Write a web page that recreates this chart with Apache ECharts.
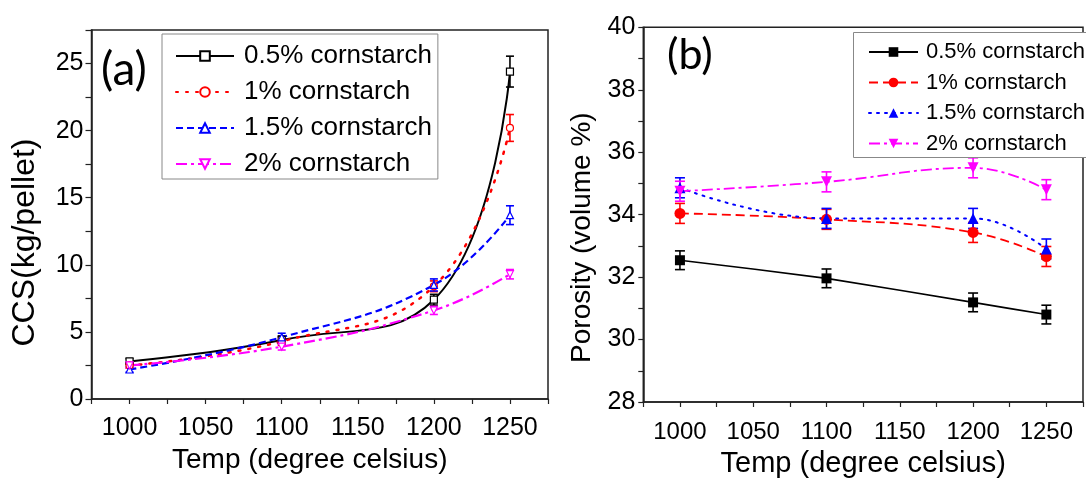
<!DOCTYPE html>
<html>
<head>
<meta charset="utf-8">
<script src="https://cdn.jsdelivr.net/npm/echarts@6/dist/echarts.min.js"></script>
<style>
  html, body { margin: 0; padding: 0; background: #fff; }
  #chart { width: 1086px; height: 483px; }
</style>
</head>
<body>
<div id="chart"></div>
<script>
// temperatures (degree celsius)
var temps = [1000, 1100, 1200, 1250];

// (a) CCS (kg/pellet)
var ccs05 = [2.8, 4.4, 7.4, 24.4];
var ccs05Err = [0.2, 0.3, 0.4, 1.15];
var ccs1 = [2.5, 4.3, 8.4, 20.2];
var ccs1Err = [0.2, 0.3, 0.4, 1.0];
var ccs15 = [2.2, 4.6, 8.5, 13.7];
var ccs15Err = [0.2, 0.3, 0.45, 0.7];
var ccs2 = [2.5, 3.9, 6.6, 9.3];
var ccs2Err = [0.2, 0.25, 0.3, 0.35];

// (b) porosity (volume %)
var por05 = [32.54, 31.96, 31.19, 30.8];
var por05Err = [0.3, 0.3, 0.3, 0.3];
var por1 = [34.04, 33.85, 33.43, 32.66];
var por1Err = [0.32, 0.32, 0.32, 0.32];
var por15 = [34.86, 33.88, 33.88, 32.9];
var por15Err = [0.32, 0.32, 0.32, 0.32];
var por2 = [34.75, 35.05, 35.5, 34.8];
var por2Err = [0.32, 0.32, 0.32, 0.32];

var names = ['0.5% cornstarch', '1% cornstarch', '1.5% cornstarch', '2% cornstarch'];
var colors = ['#000000', '#ff0000', '#0000ff', '#ff00ff'];

var FONT = '"Liberation Sans", Arial, sans-serif';
var downTri = 'path://M0,0 L10,0 L5,9 Z';

function pairs(vals) {
  return temps.map(function (t, i) { return [t, vals[i]]; });
}
function errData(vals, errs) {
  return temps.map(function (t, i) { return [t, vals[i] - errs[i], vals[i] + errs[i]]; });
}

// error bar drawn through the axes
function errRender(color, cap) {
  return function (params, api) {
    var top = api.coord([api.value(0), api.value(2)]);
    var bot = api.coord([api.value(0), api.value(1)]);
    var st = { stroke: color, lineWidth: 1.6 };
    return {
      type: 'group',
      children: [
        { type: 'line', shape: { x1: top[0], y1: top[1], x2: bot[0], y2: bot[1] }, style: st },
        { type: 'line', shape: { x1: top[0] - cap, y1: top[1], x2: top[0] + cap, y2: top[1] }, style: st },
        { type: 'line', shape: { x1: bot[0] - cap, y1: bot[1], x2: bot[0] + cap, y2: bot[1] }, style: st }
      ]
    };
  };
}

function xAxisCfg(idx, fs, margin, gap, nameFs, namePad) {
  return {
    type: 'value', gridIndex: idx, min: 975, max: 1275, interval: 25,
    name: 'Temp (degree celsius)', nameLocation: 'middle', nameGap: gap,
    nameTextStyle: { fontSize: nameFs, fontFamily: FONT, color: '#000', padding: namePad },
    axisLine: { lineStyle: { color: '#222', width: 1.5 } },
    axisTick: { inside: false, length: 5, lineStyle: { color: '#222', width: 1.2 } },
    axisLabel: {
      fontSize: fs, fontFamily: FONT, color: '#000', margin: margin,
      formatter: function (v) { return v % 50 === 0 ? String(v) : ''; }
    },
    splitLine: { show: false }
  };
}

var chart = echarts.init(document.getElementById('chart'), null, { renderer: 'canvas' });

var lineA = [
  { type: 'solid', width: 2 },
  { type: [2, 8], width: 2.5, cap: 'round' },
  { type: [7, 4], width: 2.2 },
  { type: [11, 4, 3, 4], width: 2.2 }
];
var symA = ['rect', 'circle', 'triangle', downTri];
var lineB = [
  { type: 'solid', width: 1.6 },
  { type: [9, 5], width: 1.8 },
  { type: [2, 6], width: 2, cap: 'round' },
  { type: [11, 4, 3, 4], width: 1.8 }
];
var symB = ['rect', 'circle', 'triangle', downTri];

var dataA = [ccs05, ccs1, ccs15, ccs2];
var errA = [ccs05Err, ccs1Err, ccs15Err, ccs2Err];
var dataB = [por05, por1, por15, por2];
var errB = [por05Err, por1Err, por15Err, por2Err];

var series = [];
for (var i = 0; i < 4; i++) {
  series.push({
    type: 'custom', xAxisIndex: 0, yAxisIndex: 0, z: 3,
    renderItem: errRender(colors[i], 4),
    encode: { x: 0, y: [1, 2] },
    data: errData(dataA[i], errA[i]), silent: true
  });
  series.push({
    name: names[i], type: 'line', xAxisIndex: 0, yAxisIndex: 0, z: 4,
    smooth: 0.45,
    data: pairs(dataA[i]),
    symbol: symA[i], symbolSize: 7,
    showAllSymbol: true,
    lineStyle: { color: colors[i], type: lineA[i].type, width: lineA[i].width, cap: lineA[i].cap || 'butt' },
    itemStyle: { color: '#fff', borderColor: colors[i], borderWidth: 1.2 },
    emphasis: { disabled: true }
  });
}
for (var j = 0; j < 4; j++) {
  series.push({
    type: 'custom', xAxisIndex: 1, yAxisIndex: 1, z: 3,
    renderItem: errRender(colors[j], 5),
    encode: { x: 0, y: [1, 2] },
    data: errData(dataB[j], errB[j]), silent: true
  });
  series.push({
    name: names[j] + ' ', type: 'line', xAxisIndex: 1, yAxisIndex: 1, z: 4,
    smooth: j === 0 ? 0.15 : 0.45,
    data: pairs(dataB[j]),
    symbol: symB[j], symbolSize: j === 0 ? 10 : 11,
    lineStyle: { color: colors[j], type: lineB[j].type, width: lineB[j].width, cap: lineB[j].cap || 'butt' },
    itemStyle: { color: colors[j], borderColor: colors[j], borderWidth: 0 },
    emphasis: { disabled: true }
  });
}

var option = {
  animation: false,
  backgroundColor: '#fff',
  grid: [
    { left: 91.5, top: 30, width: 456.5, height: 369, show: true, borderColor: '#222', borderWidth: 1.5, backgroundColor: 'transparent' },
    { left: 643.3, top: 27.3, width: 451.2, height: 379.4, show: true, borderColor: '#222', borderWidth: 1.5, backgroundColor: 'transparent' }
  ],
  xAxis: [xAxisCfg(0, 25, 17, 45, 28, [0, 20, 0, 0]), xAxisCfg(1, 24, 18, 47, 29, 0)],
  yAxis: [
    {
      type: 'value', gridIndex: 0, min: 0, max: 27.5, interval: 2.5,
      name: 'CCS(kg/pellet)', nameLocation: 'middle', nameGap: 50,
      nameTextStyle: { fontSize: 32, fontFamily: FONT, color: '#000', padding: [0, 56, 0, 0] },
      axisLine: { show: true, lineStyle: { color: '#222', width: 1.5 } },
      axisTick: { show: true, length: 6, lineStyle: { color: '#222', width: 1.2 } },
      axisLabel: {
        fontSize: 25, fontFamily: FONT, color: '#000', margin: 8,
        formatter: function (v) { return v % 5 === 0 ? String(v) : ''; }
      },
      splitLine: { show: false }
    },
    {
      type: 'value', gridIndex: 1, min: 28, max: 40, interval: 1,
      name: 'Porosity (volume %)', nameLocation: 'middle', nameGap: 47,
      nameTextStyle: { fontSize: 28, fontFamily: FONT, color: '#000', padding: [0, 46, 0, 0] },
      axisLine: { show: true, lineStyle: { color: '#222', width: 1.5 } },
      axisTick: { show: true, length: 5, lineStyle: { color: '#222', width: 1.2 } },
      axisLabel: {
        fontSize: 25, fontFamily: FONT, color: '#000', margin: 8,
        formatter: function (v) { return v % 2 === 0 ? String(v) : ''; }
      },
      splitLine: { show: false }
    }
  ],
  legend: [
    {
      orient: 'vertical', left: 162, top: 34, z: 20,
      padding: [9, 6, 2, 13], itemWidth: 58, itemHeight: 12, itemGap: 10,
      borderColor: '#888', borderWidth: 1, backgroundColor: '#fff',
      selectedMode: false,
      textStyle: { fontSize: 26, lineHeight: 26, fontFamily: FONT, color: '#000', padding: [0, 0, 0, 5] },
      data: names
    },
    {
      orient: 'vertical', left: 853, top: 32, z: 20,
      padding: [9, 10, 3, 15], itemWidth: 49, itemHeight: 12, itemGap: 8.5,
      borderWidth: 0,
      selectedMode: false,
      formatter: function (n) { return n.trim(); },
      textStyle: { fontSize: 22, lineHeight: 22, fontFamily: FONT, color: '#000', padding: [0, 0, 0, 3] },
      data: names.map(function (n) { return n + ' '; })
    }
  ],
  graphic: [
    { type: 'rect', left: 853, top: 32, z: 10, shape: { width: 260, height: 125 }, style: { fill: '#fff', stroke: '#888', lineWidth: 1 } },
    { type: 'text', left: 101, top: 47, z: 10, style: { text: '(a)', font: '46px Lato, "Open Sans", sans-serif', fill: '#000' } },
    { type: 'text', left: 667, top: 34, z: 10, style: { text: '(b)', font: '43px Lato, "Open Sans", sans-serif', fill: '#000' } }
  ],
  series: series
};

chart.setOption(option);
</script>
</body>
</html>
